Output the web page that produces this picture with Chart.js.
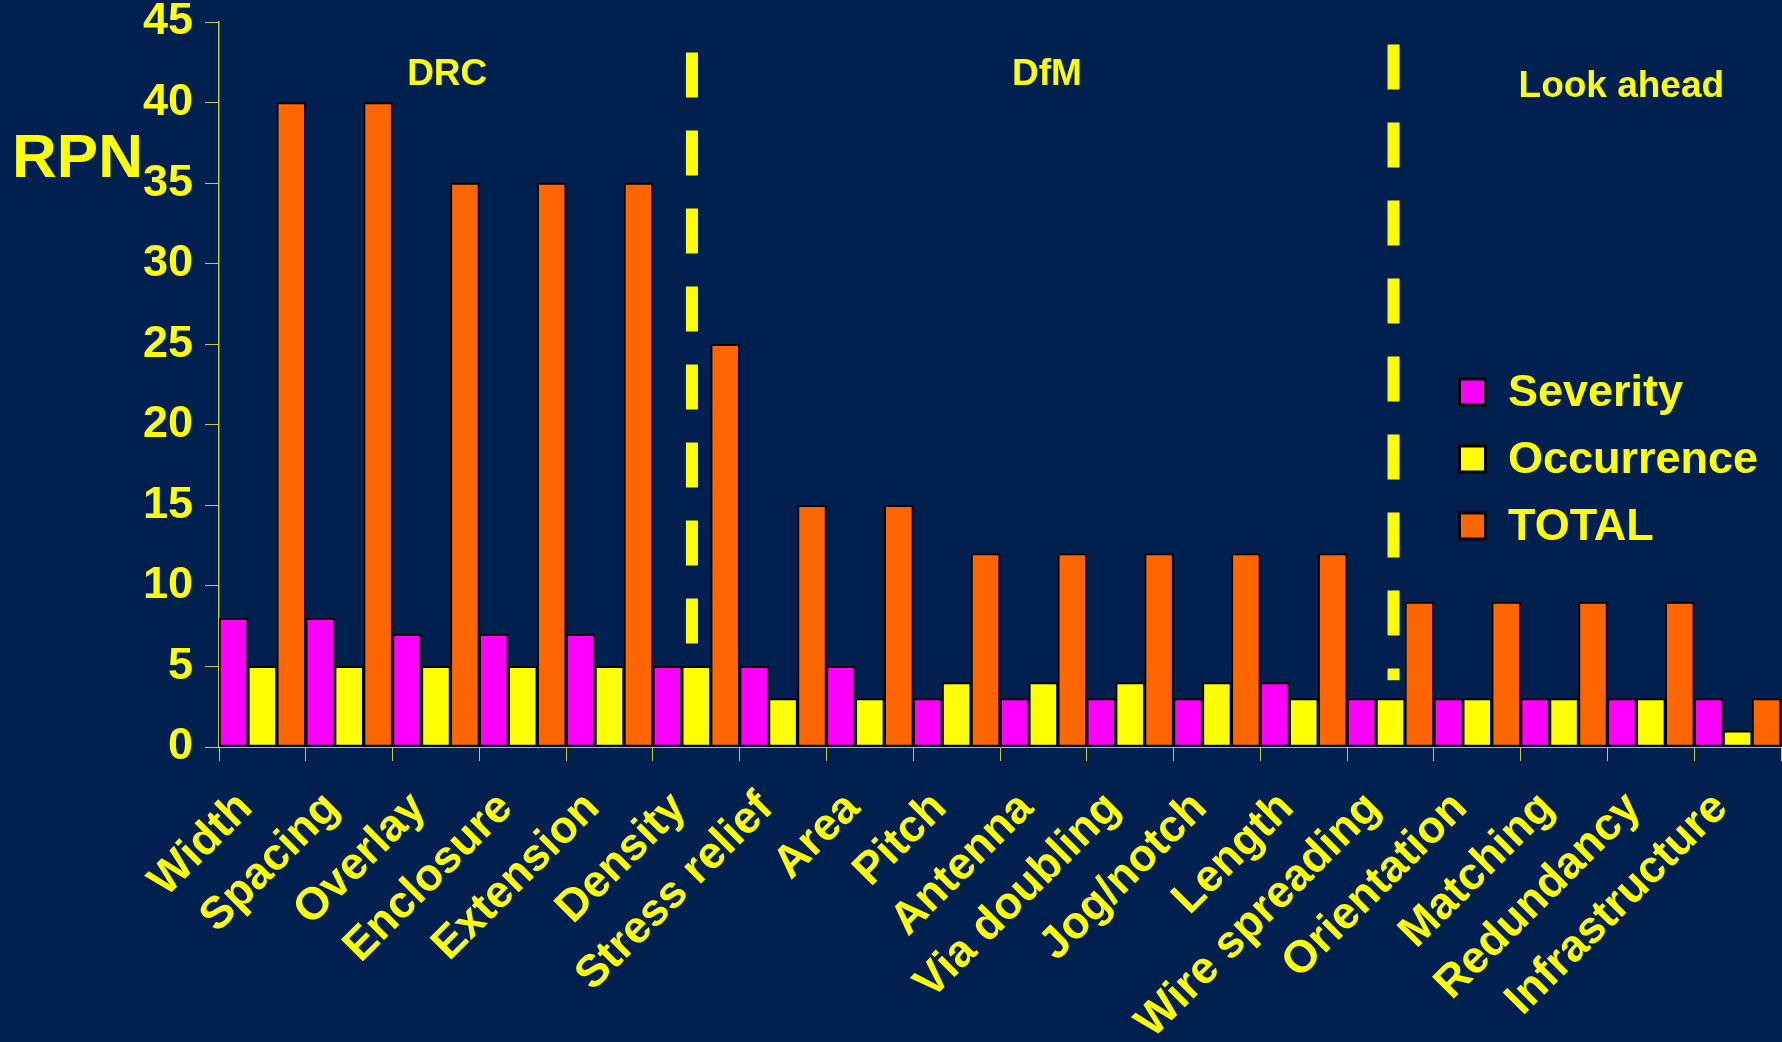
<!DOCTYPE html>
<html>
<head>
<meta charset="utf-8">
<script src="https://cdn.jsdelivr.net/npm/chart.js@4.4.1/dist/chart.umd.min.js"></script>
<style>
  html, body { margin: 0; padding: 0; background: #00204F; }
  #wrap { width: 1782px; height: 1042px; position: relative; }
</style>
</head>
<body>
<div id="wrap"><canvas id="c" width="1782" height="1042"></canvas></div>
<script>
// ---- data ----
const categories = ["Width", "Spacing", "Overlay", "Enclosure", "Extension", "Density",
  "Stress relief", "Area", "Pitch", "Antenna", "Via doubling", "Jog/notch", "Length",
  "Wire spreading", "Orientation", "Matching", "Redundancy", "Infrastructure"];
const severity   = [8, 8, 7, 7, 7, 5, 5, 5, 3, 3, 3, 3, 4, 3, 3, 3, 3, 3];
const occurrence = [5, 5, 5, 5, 5, 5, 3, 3, 4, 4, 4, 4, 3, 3, 3, 3, 3, 1];
const total      = [40, 40, 35, 35, 35, 25, 15, 15, 12, 12, 12, 12, 12, 9, 9, 9, 9, 3];
const seriesNames = ["Severity", "Occurrence", "TOTAL"];
const yTicks = [0, 5, 10, 15, 20, 25, 30, 35, 40, 45];
const sectionNames = ["DRC", "DfM", "Look ahead"];
const axisTitle = "RPN";

const FONT = "'Liberation Sans', Arial, Helvetica, sans-serif";
const YEL = "#FFFF00";
const AXIS = "#C8C83C";
const BG = "#00204F";

const overlay = {
  id: 'overlay',
  beforeDraw(chart) {
    const ctx = chart.ctx;
    ctx.save();
    ctx.fillStyle = BG;
    ctx.fillRect(0, 0, chart.width, chart.height);
    ctx.restore();
  },
  afterDatasetsDraw(chart) {
    const ctx = chart.ctx;
    const xs = chart.scales.x, ys = chart.scales.y;
    ctx.save();
    // dashed section dividers
    const dividers = [
      { at: 5 - 0.05, from: 43.1, to: 6.4 },
      { at: 13 + 0.035, from: 43.6, to: 4.15 }
    ];
    ctx.strokeStyle = YEL;
    ctx.lineWidth = 12;
    ctx.lineCap = 'butt';
    ctx.setLineDash([45, 33]);
    dividers.forEach(d => {
      const x = xs.getPixelForValue(d.at);
      ctx.beginPath();
      ctx.moveTo(x, ys.getPixelForValue(d.from));
      ctx.lineTo(x, ys.getPixelForValue(d.to));
      ctx.stroke();
    });
    ctx.setLineDash([]);
    // section names
    const secPos = [[2.13, 41.7], [9.04, 41.7], [15.66, 41.0]];
    ctx.fillStyle = YEL;
    ctx.font = "bold 37px " + FONT;
    ctx.textAlign = 'center';
    ctx.textBaseline = 'middle';
    sectionNames.forEach((s, i) => {
      ctx.fillText(s, xs.getPixelForValue(secPos[i][0]), ys.getPixelForValue(secPos[i][1]));
    });
    // axis title
    ctx.font = "bold 62px " + FONT;
    ctx.textAlign = 'left';
    ctx.fillText(axisTitle, 12, 160);
    // legend
    const lx = 1458, ly0 = 392, step = 67, box = 29;
    ctx.font = "bold 45px " + FONT;
    chart.data.datasets.forEach((ds, i) => {
      const cy = ly0 + i * step;
      ctx.fillStyle = '#000000';
      ctx.fillRect(lx, cy - box / 2, box, box);
      ctx.fillStyle = ds.backgroundColor;
      ctx.fillRect(lx + 3, cy - box / 2 + 3, box - 6, box - 6);
      ctx.fillStyle = YEL;
      ctx.textAlign = 'left';
      ctx.textBaseline = 'middle';
      ctx.fillText(ds.label, 1508, cy + 2);
    });
    ctx.restore();
  }
};

const colors = ["#FF00FF", "#FFFF00", "#FF6600"];
const values = [severity, occurrence, total];

new Chart(document.getElementById('c'), {
  type: 'bar',
  data: {
    labels: categories,
    datasets: seriesNames.map((n, i) => ({
      label: n,
      data: values[i],
      backgroundColor: colors[i],
      borderColor: '#000000',
      borderWidth: 2,
      borderSkipped: false,
      categoryPercentage: 1.0,
      barPercentage: 1.0
    }))
  },
  options: {
    responsive: false,
    animation: false,
    layout: { padding: { top: 0, right: 1, left: 0, bottom: 0 } },
    plugins: { legend: { display: false }, tooltip: { enabled: false } },
    scales: {
      x: {
        offset: true,
        grid: { display: true, drawOnChartArea: false, drawTicks: true, tickLength: 14, color: AXIS, offset: true },
        border: { display: true, color: AXIS, width: 1 },
        ticks: {
          color: YEL, autoSkip: false, maxRotation: 45, minRotation: 45, padding: 24, labelOffset: -17,
          font: { family: FONT, size: 45, weight: 'bold', lineHeight: 1 }
        },
        afterFit(scale) { scale.height = 295; scale.paddingLeft = 0; scale.paddingRight = 0; }
      },
      y: {
        min: 0, max: 45,
        afterBuildTicks(scale) { scale.ticks = yTicks.map(v => ({ value: v })); },
        grid: { display: true, drawOnChartArea: false, drawTicks: true, tickLength: 14, color: AXIS },
        border: { display: true, color: AXIS, width: 1.5 },
        ticks: {
          color: YEL, padding: 12,
          font: { family: FONT, size: 45, weight: 'bold', lineHeight: 1 }
        },
        afterFit(scale) { scale.width = 219; scale.paddingTop = 22; scale.paddingBottom = 0; }
      }
    }
  },
  plugins: [overlay]
});
</script>
</body>
</html>
